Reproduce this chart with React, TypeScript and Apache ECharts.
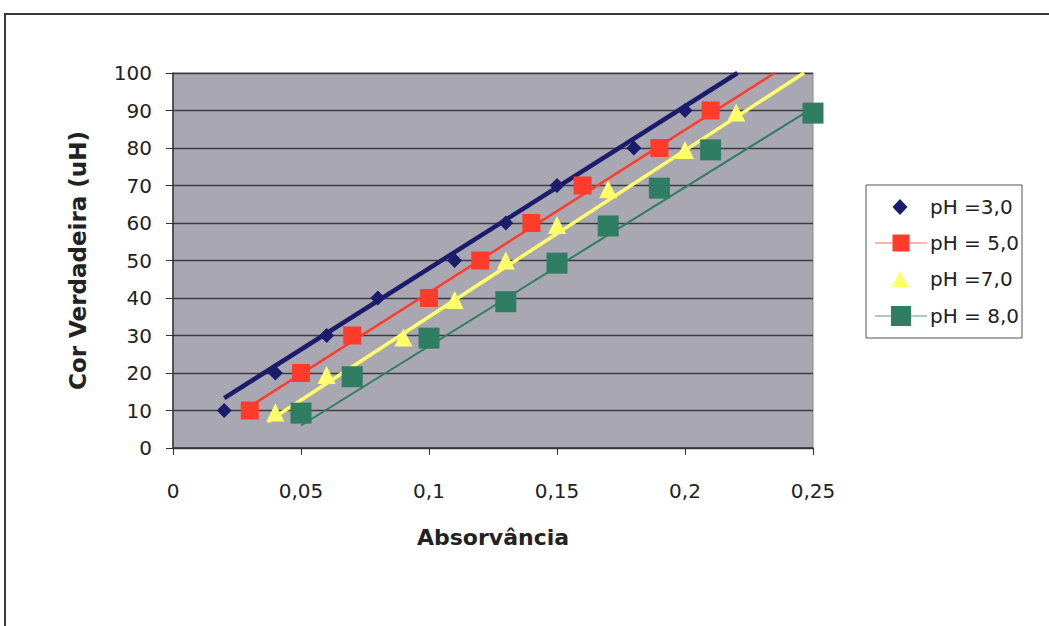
import React, { useEffect, useRef } from "react";
import * as echarts from "echarts";

const seriesNames = ["pH =3,0", "pH = 5,0", "pH =7,0", "pH = 8,0"];

const ph3: [number, number][] = [
  [0.02, 10], [0.04, 20], [0.06, 30], [0.08, 40], [0.11, 50],
  [0.13, 60], [0.15, 70], [0.18, 80], [0.2, 90],
];
const ph5: [number, number][] = [
  [0.03, 10], [0.05, 20], [0.07, 30], [0.1, 40], [0.12, 50],
  [0.14, 60], [0.16, 70], [0.19, 80], [0.21, 90],
];
const ph7: [number, number][] = [
  [0.04, 9.5], [0.06, 19.5], [0.09, 29.5], [0.11, 39.5], [0.13, 50],
  [0.15, 59.5], [0.17, 69], [0.2, 79.5], [0.22, 89.5],
];
const ph8: [number, number][] = [
  [0.05, 9.3], [0.07, 19], [0.1, 29.3], [0.13, 39], [0.15, 49.3],
  [0.17, 59.2], [0.19, 69.3], [0.21, 79.5], [0.25, 89.3],
];

// trendline endpoints
const trend3: [number, number][] = [[0.02, 13.3], [0.2205, 100]];
const trend5: [number, number][] = [[0.03, 11.1], [0.235, 100]];
const trend7: [number, number][] = [[0.037, 7], [0.2465, 100]];
const trend8: [number, number][] = [[0.05, 6], [0.25, 90.7]];

const xTicks = [0, 0.05, 0.1, 0.15, 0.2, 0.25];
const yTicks = [0, 10, 20, 30, 40, 50, 60, 70, 80, 90, 100];

const NAVY = "#1b1c6b";
const RED = "#ff3b2c";
const YELLOW = "#ffff6a";
const GREEN = "#2f7d63";
const FONT = "DejaVu Sans";
const TXT = "#222";

export default function App() {
  const ref = useRef<HTMLDivElement>(null);
  useEffect(() => {
    if (!ref.current) return;
    const chart = echarts.init(ref.current, null, { renderer: "svg" });
    const fmt = (v: number) => String(v).replace(".", ",");
    const legendText = (name: string, y: number) => ({
      type: "text", x: 930, y,
      style: { text: name, fontFamily: FONT, fontSize: 20, fill: TXT, verticalAlign: "middle", align: "left" },
      silent: true,
    });
    chart.setOption({
      animation: false,
      backgroundColor: "#ffffff",
      textStyle: { fontFamily: FONT },
      grid: {
        left: 173, top: 73, right: 236, bottom: 178,
        show: true, backgroundColor: "#a9a8b2", borderColor: "#8a8a90", borderWidth: 1,
      },
      graphic: [
        {
          type: "polyline",
          shape: { points: [[5, 700], [5, 14], [1100, 14]] },
          style: { stroke: "#3a3a3a", lineWidth: 2, fill: "none" },
          silent: true,
        },
        {
          type: "rect", shape: { x: 866, y: 185, width: 156, height: 153 },
          style: { fill: "#fff", stroke: "#555", lineWidth: 1 }, silent: true,
        },
        {
          type: "polygon", shape: { points: [[900, 199], [907.5, 207], [900, 215], [892.5, 207]] },
          style: { fill: NAVY }, silent: true,
        },
        legendText(seriesNames[0], 207),
        { type: "line", shape: { x1: 875, y1: 243, x2: 927, y2: 243 }, style: { stroke: "#ff6a5a", lineWidth: 1 }, silent: true },
        { type: "rect", shape: { x: 892.5, y: 234.5, width: 17, height: 17 }, style: { fill: RED }, silent: true },
        legendText(seriesNames[1], 243),
        {
          type: "polygon", shape: { points: [[900, 271], [908.5, 287], [891.5, 287]] },
          style: { fill: YELLOW }, silent: true,
        },
        legendText(seriesNames[2], 279),
        { type: "line", shape: { x1: 875, y1: 316, x2: 927, y2: 316 }, style: { stroke: "#5a9a85", lineWidth: 1 }, silent: true },
        { type: "rect", shape: { x: 891, y: 306, width: 20, height: 20 }, style: { fill: GREEN }, silent: true },
        legendText(seriesNames[3], 316),
      ],
      xAxis: {
        type: "value", min: 0, max: 0.25, interval: 0.05,
        name: "Absorvância", nameLocation: "middle", nameGap: 78,
        nameTextStyle: { fontFamily: FONT, fontSize: 22, fontWeight: "bold", color: TXT },
        axisLine: { show: true, lineStyle: { color: "#333", width: 1.5 } },
        axisTick: { show: true, length: 7, lineStyle: { color: "#333" } },
        axisLabel: { fontFamily: FONT, fontSize: 20, color: TXT, margin: 33, formatter: (v: number) => fmt(v) },
        splitLine: { show: false },
      },
      yAxis: {
        type: "value", min: 0, max: 100, interval: 10,
        name: "Cor Verdadeira (uH)", nameLocation: "middle", nameGap: 84,
        nameTextStyle: { fontFamily: FONT, fontSize: 23, fontWeight: "bold", color: TXT },
        axisLine: { show: true, lineStyle: { color: "#333", width: 1.5 } },
        axisTick: { show: true, length: 7, lineStyle: { color: "#333" } },
        axisLabel: { fontFamily: FONT, fontSize: 20, color: TXT, margin: 21 },
        splitLine: { show: true, lineStyle: { color: "#3c3c40", width: 1.3 } },
      },
      series: [
        { type: "line", data: trend3, symbol: "none", silent: true, z: 2, lineStyle: { color: NAVY, width: 4.5 } },
        { type: "line", data: trend5, symbol: "none", silent: true, z: 2, lineStyle: { color: RED, width: 2.5 } },
        { type: "line", data: trend7, symbol: "none", silent: true, z: 2, lineStyle: { color: YELLOW, width: 3.5 } },
        { type: "line", data: trend8, symbol: "none", silent: true, z: 2, lineStyle: { color: GREEN, width: 2 } },
        { name: seriesNames[0], type: "scatter", data: ph3, symbol: "diamond", symbolSize: 15, z: 3, itemStyle: { color: NAVY, opacity: 1 } },
        { name: seriesNames[1], type: "scatter", data: ph5, symbol: "rect", symbolSize: 18, z: 3, itemStyle: { color: RED, opacity: 1 } },
        { name: seriesNames[2], type: "scatter", data: ph7, symbol: "triangle", symbolSize: 18, z: 3, itemStyle: { color: YELLOW, opacity: 1 } },
        { name: seriesNames[3], type: "scatter", data: ph8, symbol: "rect", symbolSize: 21, z: 3, itemStyle: { color: GREEN, opacity: 1 } },
      ],
    });
    return () => chart.dispose();
  }, []);
  return <div ref={ref} style={{ position: "fixed", left: 0, top: 0, width: 1049, height: 626 }} />;
}
